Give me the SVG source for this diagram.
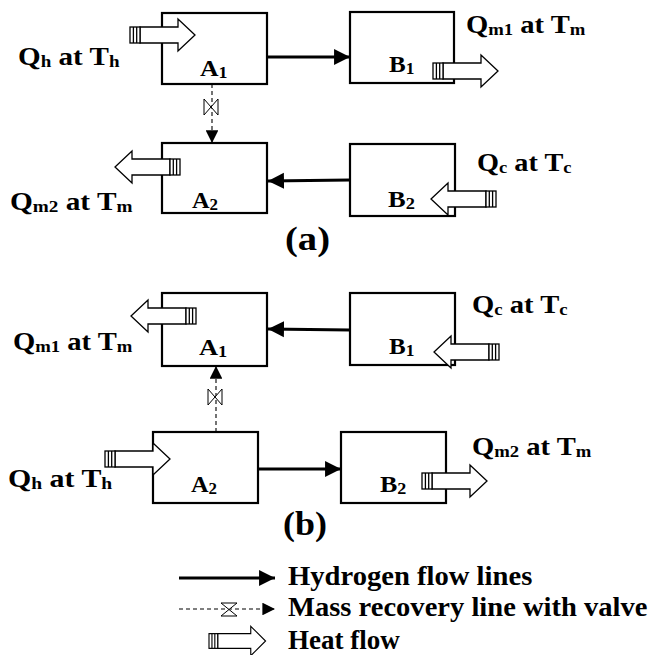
<svg xmlns="http://www.w3.org/2000/svg" width="666" height="655" viewBox="0 0 666 655" font-family="Liberation Serif, Times New Roman, serif" font-weight="bold">
<style>
.lbl{font-size:26px}
.nd{font-size:23px}
.cap{font-size:33px}
.lg{font-size:27px}
.sub{font-size:17px}
.nsub{font-size:16px}
.box{fill:#fff;stroke:#000;stroke-width:2.2}
.h2{stroke:#000;stroke-width:2.8;fill:none}
.mr{stroke:#000;stroke-width:1.1;stroke-dasharray:4 3;fill:none}
.valve{fill:#fff;stroke:#000;stroke-width:1}
.heat{fill:#fff;stroke:#000;stroke-width:1.3}
</style>
<defs>
<marker id="ah" viewBox="0 0 10 10" refX="10" refY="5" markerWidth="5.7" markerHeight="6" markerUnits="strokeWidth" orient="auto"><path d="M0 0L10 5L0 10Z" fill="#000"/></marker>
<marker id="am" viewBox="0 0 10 10" refX="10" refY="5" markerWidth="11.5" markerHeight="11.5" markerUnits="strokeWidth" orient="auto"><path d="M0 0L10 5L0 10Z" fill="#000"/></marker>
<g id="heat">
<path class="heat" d="M10 -8H48V-16L65 0L48 16V8H10Z"/>
<rect class="heat" x="0" y="-8" width="10" height="16"/>
<line x1="3.4" y1="-8" x2="3.4" y2="8" stroke="#000" stroke-width="1.3"/>
<line x1="6.7" y1="-8" x2="6.7" y2="8" stroke="#000" stroke-width="1.3"/>
</g>
<path id="valveV" class="valve" d="M-7 -8L7 8L7 -8L-7 8Z"/>
</defs>

<!-- (a) -->
<g id="a-A1"><rect class="box" x="162" y="13" width="105" height="71"/>
<text class="nd" transform="translate(200,76) scale(1.12,1)">A<tspan class="nsub" dy="2">1</tspan></text></g>
<g id="a-B1"><rect class="box" x="350" y="12" width="104" height="71"/>
<text class="nd" transform="translate(389,72) scale(1.09,1)">B<tspan class="nsub" dy="2">1</tspan></text></g>
<g id="a-A2"><rect class="box" x="162" y="143" width="105" height="70"/>
<text class="nd" transform="translate(192,208) scale(1.06,1)">A<tspan class="nsub" dy="2">2</tspan></text></g>
<g id="a-B2"><rect class="box" x="350" y="144" width="105" height="72"/>
<text class="nd" transform="translate(388,207) scale(1.15,1)">B<tspan class="nsub" dy="2">2</tspan></text></g>

<!-- (b) -->
<g id="b-A1"><rect class="box" x="162" y="293" width="105" height="73"/>
<text class="nd" transform="translate(199,355) scale(1.15,1)">A<tspan class="nsub" dy="2">1</tspan></text></g>
<g id="b-B1"><rect class="box" x="350" y="293" width="105" height="72"/>
<text class="nd" transform="translate(389,354) scale(1.09,1)">B<tspan class="nsub" dy="2">1</tspan></text></g>
<g id="b-A2"><rect class="box" x="153" y="432" width="105" height="71"/>
<text class="nd" transform="translate(191,492) scale(1.06,1)">A<tspan class="nsub" dy="2">2</tspan></text></g>
<g id="b-B2"><rect class="box" x="341" y="432" width="105" height="71"/>
<text class="nd" transform="translate(380,492) scale(1.13,1)">B<tspan class="nsub" dy="2">2</tspan></text></g>

<g id="connectors">
<line class="h2" x1="267" y1="57" x2="350" y2="57" marker-end="url(#ah)"/>
<line class="h2" x1="350" y1="180" x2="268" y2="181" marker-end="url(#ah)"/>
<line class="h2" x1="350" y1="330" x2="268" y2="329" marker-end="url(#ah)"/>
<line class="h2" x1="258" y1="469" x2="341" y2="469" marker-end="url(#ah)"/>
<line class="mr" x1="212" y1="84" x2="212" y2="143" marker-end="url(#am)"/>
<use href="#valveV" x="211" y="107"/>
<line class="mr" x1="216" y1="432" x2="216" y2="366" marker-end="url(#am)"/>
<use href="#valveV" x="215" y="397"/>
</g>

<g id="heatflows">
<use href="#heat" transform="translate(130,35)"/>
<use href="#heat" transform="translate(433,71)"/>
<use href="#heat" transform="translate(180,167) scale(-1,1)"/>
<use href="#heat" transform="translate(496,199) scale(-1,1)"/>
<use href="#heat" transform="translate(196,316) scale(-1,1)"/>
<use href="#heat" transform="translate(499,352) scale(-1,1)"/>
<use href="#heat" transform="translate(105,459)"/>
<use href="#heat" transform="translate(422,481)"/>
</g>

<g id="labels">
<text class="lbl" transform="translate(18,65) scale(1.12,1)">Q<tspan class="sub" dy="2">h</tspan><tspan dy="-2"> at T</tspan><tspan class="sub" dy="2">h</tspan></text>
<text class="lbl" transform="translate(466,33) scale(1.10,1)">Q<tspan class="sub" dy="2">m1</tspan><tspan dy="-2"> at T</tspan><tspan class="sub" dy="2">m</tspan></text>
<text class="lbl" transform="translate(10,210) scale(1.128,1)">Q<tspan class="sub" dy="2">m2</tspan><tspan dy="-2"> at T</tspan><tspan class="sub" dy="2">m</tspan></text>
<text class="lbl" transform="translate(477,171) scale(1.088,1)">Q<tspan class="sub" dy="2">c</tspan><tspan dy="-2"> at T</tspan><tspan class="sub" dy="2">c</tspan></text>
<text class="lbl" transform="translate(13,350) scale(1.10,1)">Q<tspan class="sub" dy="2">m1</tspan><tspan dy="-2"> at T</tspan><tspan class="sub" dy="2">m</tspan></text>
<text class="lbl" transform="translate(472,313) scale(1.10,1)">Q<tspan class="sub" dy="2">c</tspan><tspan dy="-2"> at T</tspan><tspan class="sub" dy="2">c</tspan></text>
<text class="lbl" transform="translate(8,487) scale(1.15,1)">Q<tspan class="sub" dy="2">h</tspan><tspan dy="-2"> at T</tspan><tspan class="sub" dy="2">h</tspan></text>
<text class="lbl" transform="translate(472,455) scale(1.10,1)">Q<tspan class="sub" dy="2">m2</tspan><tspan dy="-2"> at T</tspan><tspan class="sub" dy="2">m</tspan></text>
<text class="cap" transform="translate(285,250) scale(1.17,1)">(a)</text>
<text class="cap" transform="translate(283,535) scale(1.09,1)">(b)</text>
</g>

<g id="legend">
<line class="h2" x1="179" y1="578" x2="275" y2="578" marker-end="url(#ah)"/>
<line class="mr" x1="179" y1="609" x2="275" y2="609" marker-end="url(#am)"/>
<path class="valve" d="M221 603H237L221 616H237Z"/>
<use href="#heat" transform="translate(209,641) scale(0.87,0.92)"/>
<text class="lg" transform="translate(288,585) scale(1.06,1)">Hydrogen flow lines</text>
<text class="lg" transform="translate(288,616) scale(1.058,1)">Mass recovery line with valve</text>
<text class="lg" transform="translate(288,649)">Heat flow</text>
</g>
</svg>
